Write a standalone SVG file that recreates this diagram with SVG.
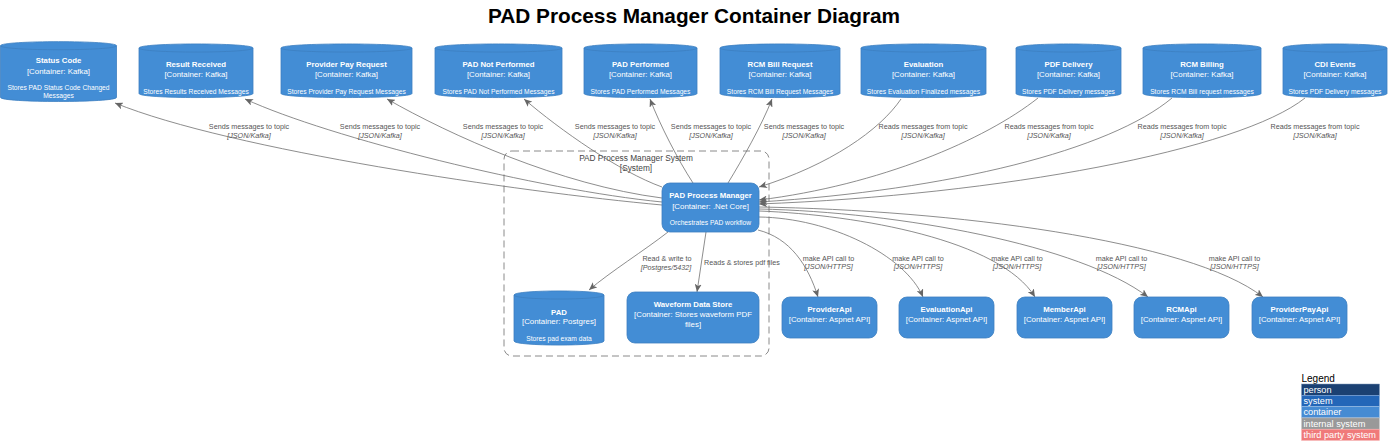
<svg xmlns="http://www.w3.org/2000/svg" width="1388" height="448" viewBox="0 0 1388 448">
<defs>
<marker id="arr" viewBox="0 0 8 7" refX="8" refY="3.5" markerWidth="8" markerHeight="7" markerUnits="userSpaceOnUse" orient="auto">
<path d="M0,0 L8,3.5 L0,7 L2,3.5 Z" fill="#666666"/>
</marker>
<style>
text{font-family:"Liberation Sans",Arial,Helvetica,sans-serif}
.title{font-size:20.8px;font-weight:bold;fill:#000;text-anchor:middle}
.shape{fill:#438DD5;stroke:#3C7FC0;stroke-width:0.8}
.rim{fill:none;stroke:#3C7FC0;stroke-width:0.8}
.nm{font-size:7.8px;font-weight:bold;fill:#fff;text-anchor:middle}
.ty{font-size:7.9px;fill:#fff;text-anchor:middle}
.ds{font-size:6.7px;fill:#fff;text-anchor:middle}
.edge{fill:none;stroke:#707070;stroke-width:0.8;marker-end:url(#arr)}
.lbl{font-size:7.2px;fill:#555;text-anchor:middle}
.tech{font-size:7.2px;font-style:italic;fill:#555;text-anchor:middle}
.bnd{fill:none;stroke:#8a8a8a;stroke-width:1;stroke-dasharray:7,4}
.bl{font-size:8.3px;fill:#444;text-anchor:middle}
.lg{font-size:9.2px;fill:#fff}
.lgh{font-size:10px;fill:#000}
</style>
</defs>
<rect x="0" y="0" width="1388" height="448" fill="#ffffff"/>
<text class="title" x="694" y="23">PAD Process Manager Container Diagram</text>

<g id="boundary">
<rect class="bnd" x="504" y="151" width="265" height="205" rx="8"/>
<text class="bl" x="636" y="161">PAD Process Manager System</text>
<text class="bl" x="636" y="171">[System]</text>
</g>

<g id="connectors">
<path class="edge" d="M662,205 C520,192 230,150 115,103"/>
<path class="edge" d="M662,202 C540,190 330,138 245,99"/>
<path class="edge" d="M662,198 C560,185 450,135 387,99"/>
<path class="edge" d="M662,187 C620,172 560,130 524,99"/>
<path class="edge" d="M693,183 C678,160 660,125 650,99"/>
<path class="edge" d="M728,183 C742,160 762,125 772,99"/>
<path class="edge" d="M901,99 C880,130 830,165 759,187"/>
<path class="edge" d="M1038,98 C985,140 880,185 759,200"/>
<path class="edge" d="M1172,98 C1110,150 950,190 759,202"/>
<path class="edge" d="M1305,98 C1240,150 1000,195 759,204"/>
<path class="edge" d="M758,230 C790,238 808,265 818,297"/>
<path class="edge" d="M759,217 C830,218 905,255 923,297"/>
<path class="edge" d="M759,211 C860,215 1000,240 1035,297"/>
<path class="edge" d="M759,209 C900,212 1080,245 1148,297"/>
<path class="edge" d="M759,207 C950,210 1190,240 1263,297"/>
<path class="edge" d="M668,232 C645,250 610,272 589,290"/>
<path class="edge" d="M706,232 C703,252 700,272 697,292"/>

<text class="lbl" x="249" y="128.5">Sends messages to topic</text><text class="tech" x="249" y="137.6">[JSON/Kafka]</text>
<text class="lbl" x="380" y="128.5">Sends messages to topic</text><text class="tech" x="380" y="137.6">[JSON/Kafka]</text>
<text class="lbl" x="503" y="128.5">Sends messages to topic</text><text class="tech" x="503" y="137.6">[JSON/Kafka]</text>
<text class="lbl" x="615" y="128.5">Sends messages to topic</text><text class="tech" x="615" y="137.6">[JSON/Kafka]</text>
<text class="lbl" x="711" y="128.5">Sends messages to topic</text><text class="tech" x="711" y="137.6">[JSON/Kafka]</text>
<text class="lbl" x="804" y="128.5">Sends messages to topic</text><text class="tech" x="804" y="137.6">[JSON/Kafka]</text>
<text class="lbl" x="923" y="128.5">Reads messages from topic</text><text class="tech" x="923" y="137.6">[JSON/Kafka]</text>
<text class="lbl" x="1049" y="128.5">Reads messages from topic</text><text class="tech" x="1049" y="137.6">[JSON/Kafka]</text>
<text class="lbl" x="1182" y="128.5">Reads messages from topic</text><text class="tech" x="1182" y="137.6">[JSON/Kafka]</text>
<text class="lbl" x="1315" y="128.5">Reads messages from topic</text><text class="tech" x="1315" y="137.6">[JSON/Kafka]</text>
<text class="lbl" x="667" y="261">Read &amp; write to</text><text class="tech" x="666" y="269.5">[Postgres/5432]</text>
<text class="lbl" x="704" y="265" style="text-anchor:start">Reads &amp; stores pdf files</text>
<text class="lbl" x="828.5" y="260.5">make API call to</text><text class="tech" x="828.5" y="269">[JSON/HTTPS]</text>
<text class="lbl" x="918" y="260.5">make API call to</text><text class="tech" x="918" y="269">[JSON/HTTPS]</text>
<text class="lbl" x="1017" y="260.5">make API call to</text><text class="tech" x="1017" y="269">[JSON/HTTPS]</text>
<text class="lbl" x="1121.5" y="260.5">make API call to</text><text class="tech" x="1121.5" y="269">[JSON/HTTPS]</text>
<text class="lbl" x="1234.5" y="260.5">make API call to</text><text class="tech" x="1234.5" y="269">[JSON/HTTPS]</text>
</g>

<g id="statusCode">
<path class="shape" d="M0.5,45.7 C0.5,40.3 116.5,40.3 116.5,45.7 L116.5,97.4 C116.5,102.8 0.5,102.8 0.5,97.4 Z"/>
<path class="rim" d="M0.5,45.7 C0.5,51.1 116.5,51.1 116.5,45.7"/>
<text class="nm" x="58.5" y="62.8">Status Code</text>
<text class="ty" x="58.5" y="73.5">[Container: Kafka]</text>
<text class="ds" x="58.5" y="89.6">Stores PAD Status Code Changed</text>
<text class="ds" x="58.5" y="98.3">Messages</text>
</g>

<g id="resultReceived">
<path class="shape" d="M139,48 C139,42.6 253,42.6 253,48 L253,93.5 C253,98.9 139,98.9 139,93.5 Z"/>
<path class="rim" d="M139,48 C139,53.4 253,53.4 253,48"/>
<text class="nm" x="196" y="66.8">Result Received</text>
<text class="ty" x="196" y="76.8">[Container: Kafka]</text>
<text class="ds" x="196" y="94.1">Stores Results Received Messages</text>
</g>

<g id="providerPayRequest">
<path class="shape" d="M281,48 C281,42.6 412,42.6 412,48 L412,93.5 C412,98.9 281,98.9 281,93.5 Z"/>
<path class="rim" d="M281,48 C281,53.4 412,53.4 412,48"/>
<text class="nm" x="346.5" y="66.8">Provider Pay Request</text>
<text class="ty" x="346.5" y="76.8">[Container: Kafka]</text>
<text class="ds" x="346.5" y="94.1">Stores Provider Pay Request Messages</text>
</g>

<g id="padNotPerformed">
<path class="shape" d="M435,48 C435,42.6 562,42.6 562,48 L562,93.5 C562,98.9 435,98.9 435,93.5 Z"/>
<path class="rim" d="M435,48 C435,53.4 562,53.4 562,48"/>
<text class="nm" x="498.5" y="66.8">PAD Not Performed</text>
<text class="ty" x="498.5" y="76.8">[Container: Kafka]</text>
<text class="ds" x="498.5" y="94.1">Stores PAD Not Performed Messages</text>
</g>

<g id="padPerformed">
<path class="shape" d="M584,48 C584,42.6 697,42.6 697,48 L697,93.5 C697,98.9 584,98.9 584,93.5 Z"/>
<path class="rim" d="M584,48 C584,53.4 697,53.4 697,48"/>
<text class="nm" x="640.5" y="66.8">PAD Performed</text>
<text class="ty" x="640.5" y="76.8">[Container: Kafka]</text>
<text class="ds" x="640.5" y="94.1">Stores PAD Performed Messages</text>
</g>

<g id="rcmBillRequest">
<path class="shape" d="M720,48 C720,42.6 840,42.6 840,48 L840,93.5 C840,98.9 720,98.9 720,93.5 Z"/>
<path class="rim" d="M720,48 C720,53.4 840,53.4 840,48"/>
<text class="nm" x="780" y="66.8">RCM Bill Request</text>
<text class="ty" x="780" y="76.8">[Container: Kafka]</text>
<text class="ds" x="780" y="94.1">Stores RCM Bill Request Messages</text>
</g>

<g id="evaluation">
<path class="shape" d="M861,48 C861,42.6 986,42.6 986,48 L986,93.5 C986,98.9 861,98.9 861,93.5 Z"/>
<path class="rim" d="M861,48 C861,53.4 986,53.4 986,48"/>
<text class="nm" x="923.5" y="66.8">Evaluation</text>
<text class="ty" x="923.5" y="76.8">[Container: Kafka]</text>
<text class="ds" x="923.5" y="94.1">Stores Evaluation Finalized messages</text>
</g>

<g id="pdfDelivery">
<path class="shape" d="M1016,48 C1016,42.6 1121,42.6 1121,48 L1121,93.5 C1121,98.9 1016,98.9 1016,93.5 Z"/>
<path class="rim" d="M1016,48 C1016,53.4 1121,53.4 1121,48"/>
<text class="nm" x="1068.5" y="66.8">PDF Delivery</text>
<text class="ty" x="1068.5" y="76.8">[Container: Kafka]</text>
<text class="ds" x="1068.5" y="94.1">Stores PDF Delivery messages</text>
</g>

<g id="rcmBilling">
<path class="shape" d="M1143,48 C1143,42.6 1261,42.6 1261,48 L1261,93.5 C1261,98.9 1143,98.9 1143,93.5 Z"/>
<path class="rim" d="M1143,48 C1143,53.4 1261,53.4 1261,48"/>
<text class="nm" x="1202" y="66.8">RCM Billing</text>
<text class="ty" x="1202" y="76.8">[Container: Kafka]</text>
<text class="ds" x="1202" y="94.1">Stores RCM Bill request messages</text>
</g>

<g id="cdiEvents">
<path class="shape" d="M1283,48 C1283,42.6 1387,42.6 1387,48 L1387,93.5 C1387,98.9 1283,98.9 1283,93.5 Z"/>
<path class="rim" d="M1283,48 C1283,53.4 1387,53.4 1387,48"/>
<text class="nm" x="1335" y="66.8">CDI Events</text>
<text class="ty" x="1335" y="76.8">[Container: Kafka]</text>
<text class="ds" x="1335" y="94.1">Stores PDF Delivery messages</text>
</g>

<g id="padProcessManager">
<rect class="shape" x="662" y="183" width="97" height="49" rx="8"/>
<text class="nm" x="710.5" y="198.4">PAD Process Manager</text>
<text class="ty" x="710.5" y="208.5">[Container: .Net Core]</text>
<text class="ds" x="710.5" y="224.6">Orchestrates PAD workflow</text>
</g>

<g id="padDb">
<path class="shape" d="M514,295 C514,289.6 604,289.6 604,295 L604,341 C604,346.4 514,346.4 514,341 Z"/>
<path class="rim" d="M514,295 C514,300.4 604,300.4 604,295"/>
<text class="nm" x="559" y="314.7">PAD</text>
<text class="ty" x="559" y="323.8">[Container: Postgres]</text>
<text class="ds" x="559" y="340.6">Stores pad exam data</text>
</g>

<g id="waveformDataStore">
<rect class="shape" x="627" y="292" width="132" height="51" rx="8"/>
<text class="nm" x="693" y="306.7">Waveform Data Store</text>
<text class="ty" x="693" y="317">[Container: Stores waveform PDF</text>
<text class="ty" x="693" y="326.8">files]</text>
</g>

<g id="providerApi">
<rect class="shape" x="782" y="297" width="95" height="41" rx="8"/>
<text class="nm" x="829.5" y="311.7">ProviderApi</text>
<text class="ty" x="829.5" y="321.8">[Container: Aspnet API]</text>
</g>
<g id="evaluationApi">
<rect class="shape" x="899" y="297" width="95" height="41" rx="8"/>
<text class="nm" x="946.5" y="311.7">EvaluationApi</text>
<text class="ty" x="946.5" y="321.8">[Container: Aspnet API]</text>
</g>
<g id="memberApi">
<rect class="shape" x="1017" y="297" width="95" height="41" rx="8"/>
<text class="nm" x="1064.5" y="311.7">MemberApi</text>
<text class="ty" x="1064.5" y="321.8">[Container: Aspnet API]</text>
</g>
<g id="rcmApi">
<rect class="shape" x="1134" y="297" width="95" height="41" rx="8"/>
<text class="nm" x="1181.5" y="311.7">RCMApi</text>
<text class="ty" x="1181.5" y="321.8">[Container: Aspnet API]</text>
</g>
<g id="providerPayApi">
<rect class="shape" x="1252" y="297" width="95" height="41" rx="8"/>
<text class="nm" x="1299.5" y="311.7">ProviderPayApi</text>
<text class="ty" x="1299.5" y="321.8">[Container: Aspnet API]</text>
</g>

<g id="legend">
<text class="lgh" x="1301.5" y="381.8">Legend</text>
<rect x="1301.5" y="384" width="78" height="11.3" fill="#1B4173" stroke="#7f9bbd" stroke-width="0.5"/>
<text class="lg" x="1303.5" y="392.7">person</text>
<rect x="1301.5" y="395.3" width="78" height="11.3" fill="#2366B8" stroke="#8fb0dc" stroke-width="0.5"/>
<text class="lg" x="1303.5" y="404">system</text>
<rect x="1301.5" y="406.6" width="78" height="11.3" fill="#468BD3" stroke="#a3c5ea" stroke-width="0.5"/>
<text class="lg" x="1303.5" y="415.3">container</text>
<rect x="1301.5" y="417.9" width="78" height="11.3" fill="#999999" stroke="#cccccc" stroke-width="0.5"/>
<text class="lg" x="1303.5" y="426.6">internal system</text>
<rect x="1301.5" y="429.2" width="78" height="11.3" fill="#F07A7A" stroke="#f8baba" stroke-width="0.5"/>
<text class="lg" x="1303.5" y="437.9">third party system</text>
</g>
</svg>
